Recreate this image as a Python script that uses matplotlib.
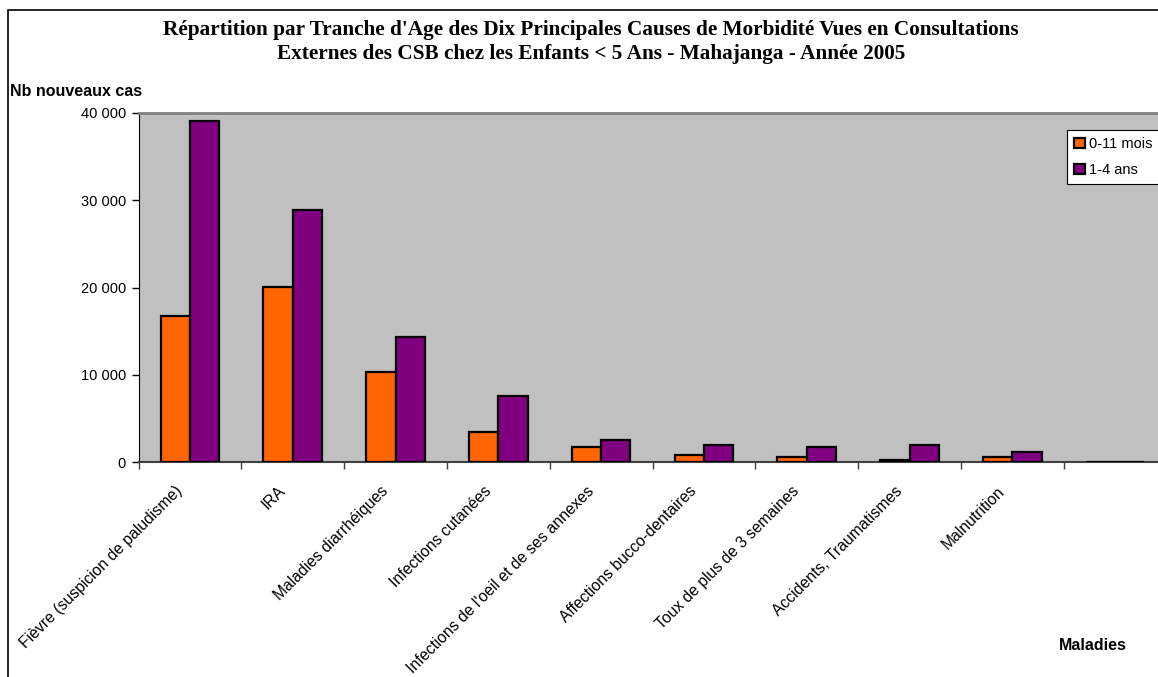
import matplotlib.pyplot as plt
import numpy as np
from matplotlib.patches import Rectangle
from matplotlib.ticker import FuncFormatter, MultipleLocator
import matplotlib.transforms as mtransforms

# Data
maladies = [
    "Fièvre (suspicion de paludisme)",
    "IRA",
    "Maladies diarrhéiques",
    "Infections cutanées",
    "Infections de l'oeil et de ses annexes",
    "Affections bucco-dentaires",
    "Toux de plus de 3 semaines",
    "Accidents, Traumatismes",
    "Malnutrition",
    "",
]
mois_0_11 = [16700, 20100, 10350, 3500, 1800, 800, 600, 300, 600, 90]
ans_1_4 = [39100, 28900, 14400, 7600, 2500, 1950, 1700, 1950, 1200, 90]

W, H = 1158, 677
fig = plt.figure(figsize=(W / 100, H / 100), dpi=100)
fig.patch.set_facecolor("white")

# chart-area border (goes past the right/bottom edge like the reference)
fig.patches.append(Rectangle((8 / W, -0.1), 1.2, 1 - 10 / H + 0.1,
                             transform=fig.transFigure, fill=False,
                             edgecolor="black", linewidth=1.2))

left, right, top, bottom = 138.5, 1166.5, 113, 462.3
ax = fig.add_axes([left / W, 1 - bottom / H, (right - left) / W, (bottom - top) / H])
ax.set_facecolor("#C0C0C0")

x = np.arange(len(maladies))
w = 1 / 3.5
ax.bar(x - w / 2, mois_0_11, width=w, color="#FF6600", edgecolor="black",
       linewidth=1.6, label="0-11 mois", zorder=3)
ax.bar(x + w / 2, ans_1_4, width=w, color="#800080", edgecolor="black",
       linewidth=1.6, label="1-4 ans", zorder=3)

ax.set_xlim(-0.5, len(maladies) - 0.5)
ax.set_ylim(0, 40000)
ax.yaxis.set_major_locator(MultipleLocator(10000))
ax.yaxis.set_major_formatter(FuncFormatter(lambda v, p: f"{int(v):,}".replace(",", " ")))

ax.set_xticks(np.arange(len(maladies) + 1) - 0.5)
ax.set_xticklabels([])
ax.tick_params(axis="x", length=5, width=1, color="#404040")
ax.tick_params(axis="y", length=5, width=1, labelsize=10.5, pad=4)
for lab in ax.get_yticklabels():
    lab.set_family("Liberation Sans")

# rotated category labels, right end just left of the category centre
base = ax.get_xaxis_transform()
off = mtransforms.ScaledTranslation(-15 / 100, -21 / 100, fig.dpi_scale_trans)
for xi, name in zip(x, maladies):
    ax.text(xi, 0, name, transform=base + off, rotation=45, ha="right", va="top",
            rotation_mode="anchor", fontsize=11.3, family="Liberation Sans")

for side in ["top", "right"]:
    ax.spines[side].set_color("#808080")
    ax.spines[side].set_linewidth(2)
ax.spines["left"].set_color("black")
ax.spines["bottom"].set_color("#404040")
ax.spines["bottom"].set_linewidth(1.5)

leg = ax.legend(loc="upper left", bbox_to_anchor=((1067 - left) / (right - left), 1 - (130 - top) / (bottom - top)),
                frameon=True, fancybox=False, edgecolor="black", framealpha=1,
                prop={"family": "Liberation Sans", "size": 10.5},
                handlelength=0.7, handleheight=0.7, handletextpad=0.3,
                borderpad=0.5, labelspacing=0.8, borderaxespad=0)
leg.get_frame().set_linewidth(0.8)

fig.text(591 / W, 1 - 30 / H, "Répartition par Tranche d'Age des Dix Principales Causes de Morbidité Vues en Consultations",
         ha="center", va="center", fontsize=15.3, fontweight="bold", family="Liberation Serif")
fig.text(591 / W, 1 - 54 / H, "Externes des CSB chez les Enfants < 5 Ans - Mahajanga - Année 2005",
         ha="center", va="center", fontsize=15.3, fontweight="bold", family="Liberation Serif")
fig.text(10 / W, 1 - 92 / H, "Nb nouveaux cas", ha="left", va="center",
         fontsize=11.5, fontweight="bold", family="Liberation Sans")
fig.text(1093 / W, 1 - 645 / H, "Maladies", ha="center", va="center",
         fontsize=11.5, fontweight="bold", family="Liberation Sans")

fig.savefig("out.png", dpi=100)
